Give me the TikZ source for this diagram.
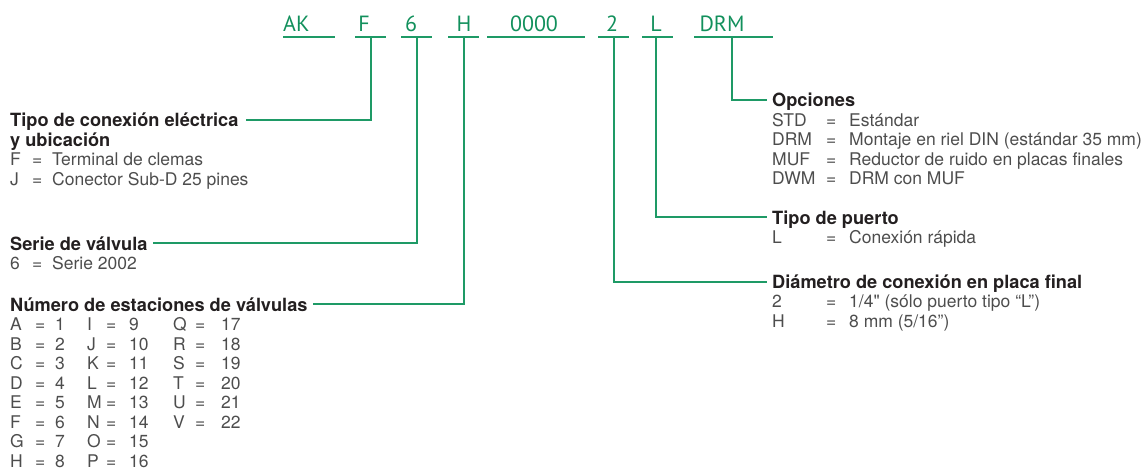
\documentclass[tikz,border=0pt]{standalone}
\usepackage{fontspec}
\setmainfont{TeX Gyre Heros}[Ligatures=TeXOff]
\newfontfamily\codefont{PT Sans}
\definecolor{lgreen}{HTML}{1E9A66}
\definecolor{codegreen}{HTML}{12905C}
\definecolor{hdark}{HTML}{231F20}
\definecolor{bgray}{HTML}{4D4D4D}
\newcommand{\kvr}[4]{\makebox[#1][l]{#3}\makebox[#2][l]{=}#4}
\begin{document}
\begin{tikzpicture}[x=1pt,y=-1pt,
  hdr/.style={font=\bfseries\fontsize{18.2}{19.5}\selectfont, text=hdark, inner sep=0pt, anchor=base west},
  body/.style={font=\fontsize{17.5}{19.5}\selectfont, text=bgray, inner sep=0pt, anchor=base west},
  codetxt/.style={font=\codefont\fontsize{22}{23}\selectfont, text=codegreen, inner sep=0pt, anchor=base},
  lead/.style={draw=lgreen, line width=1.2pt},
  uline/.style={draw=lgreen, line width=1.2pt}]
\useasboundingbox (0,0) rectangle (1148,473);

% code row
\node[codetxt, anchor=base west] (cAK) at (283,32) {AK};
\node[codetxt] (cF) at (364,32) {F};
\node[codetxt] (c6) at (411,32) {6};
\node[codetxt] (cH) at (464,32) {H};
\node[codetxt] (c0) at (534,32) {0000};
\node[codetxt] (c2) at (612,32) {2};
\node[codetxt] (cL) at (656,32) {L};
\node[codetxt] (cD) at (722,32) {DRM};

\coordinate (uAKa) at (283,37); \coordinate (uAKb) at (335,37);
\coordinate (uFa) at (355,37); \coordinate (uFb) at (386,37); \coordinate (uF) at (371,37);
\coordinate (u6a) at (401,37); \coordinate (u6b) at (432,37); \coordinate (u6) at (417,37);
\coordinate (uHa) at (448,37); \coordinate (uHb) at (479,37); \coordinate (uH) at (464,37);
\coordinate (u0a) at (487,37); \coordinate (u0b) at (585,37);
\coordinate (u2a) at (598,37); \coordinate (u2b) at (629,37); \coordinate (u2) at (614,37);
\coordinate (uLa) at (642,37); \coordinate (uLb) at (673,37); \coordinate (uL) at (656,37);
\coordinate (uDa) at (694,37); \coordinate (uDb) at (773,37); \coordinate (uD) at (732,37);
\foreach \a/\b in {uAKa/uAKb,uFa/uFb,u6a/u6b,uHa/uHb,u0a/u0b,u2a/u2b,uLa/uLb,uDa/uDb}
  \draw[uline] (\a) -- (\b);

% left: Tipo de conexion
\node[hdr] (hTipo) at (10,127) {Tipo de conexión eléctrica};
\node[hdr] (hTipo2) at (10,146.5) {y ubicación};
\node[body] (bF) at (10,166) {\kvr{22pt}{20pt}{F}{Terminal de clemas}};
\node[body] (bJ) at (10,185.5) {\kvr{22pt}{20pt}{J}{Conector Sub-D 25 pines}};
\coordinate (eTipo) at (246,120);

% Serie
\node[hdr] (hSerie) at (10,250) {Serie de válvula};
\node[body] (b6) at (10,269.5) {\kvr{22pt}{20pt}{6}{Serie 2002}};
\coordinate (eSerie) at (153,243);

% Numero
\node[hdr] (hNum) at (10,311) {Número de estaciones de válvulas};
\coordinate (eNum) at (313,304);
\foreach \k/\v [count=\i from 0] in {A/1,B/2,C/3,D/4,E/5,F/6,G/7,H/8}
  \node[body] (nA\i) at (10,330.5+19.5*\i) {\kvr{25pt}{20pt}{\k}{\v}};
\foreach \k/\v [count=\i from 0] in {I/9,J/10,K/11,L/12,M/13,N/14,O/15,P/16}
  \node[body] (nB\i) at (87,330.5+19.5*\i) {\kvr{19pt}{23pt}{\k}{\v}};
\foreach \k/\v [count=\i from 0] in {Q/17,R/18,S/19,T/20,U/21,V/22}
  \node[body] (nC\i) at (173,330.5+19.5*\i) {\kvr{22pt}{26pt}{\k}{\v}};

% right: Opciones
\node[hdr] (hOpc) at (772,107) {Opciones};
\coordinate (eOpc) at (767,100);
\foreach \k/\v [count=\i from 1] in {STD/Estándar,DRM/Montaje en riel DIN (estándar 35 mm),MUF/Reductor de ruido en placas finales,DWM/DRM con MUF}
  \node[body] (o\i) at (772,107+19.5*\i) {\kvr{54pt}{23pt}{\k}{\v}};

% Tipo de puerto
\node[hdr] (hPto) at (772,224) {Tipo de puerto};
\coordinate (ePto) at (767,217);
\node[body] (pL) at (772,243.5) {\kvr{54pt}{23pt}{L}{Conexión rápida}};

% Diametro
\node[hdr] (hDia) at (772,288) {Diámetro de conexión en placa final};
\coordinate (eDia) at (767,282);
\node[body] (d2) at (772,307.5) {\kvr{54pt}{23pt}{2}{1/4" (sólo puerto tipo “L”)}};
\node[body] (dH) at (772,327) {\kvr{54pt}{23pt}{H}{8 mm (5/16”)}};

% leaders
\draw[lead] (uF) |- (eTipo);
\draw[lead] (u6) |- (eSerie);
\draw[lead] (uH) |- (eNum);
\draw[lead] (uD) |- (eOpc);
\draw[lead] (uL) |- (ePto);
\draw[lead] (u2) |- (eDia);
\end{tikzpicture}
\end{document}
